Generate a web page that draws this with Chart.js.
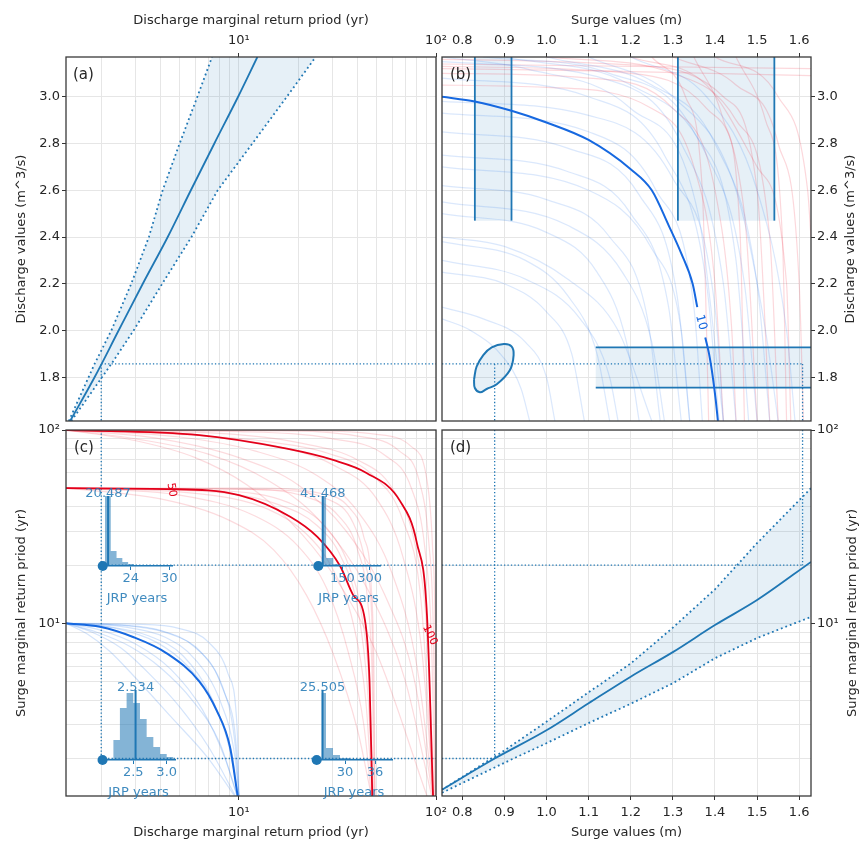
<!DOCTYPE html>
<html>
<head>
<meta charset="utf-8">
<script src="https://cdn.jsdelivr.net/npm/chart.js@4.4.1/dist/chart.umd.min.js"></script>
<style>
  html, body { margin: 0; padding: 0; background: #fff; }
  #wrap { position: relative; width: 860px; height: 843px; overflow: hidden; }
  #wrap canvas { position: absolute; left: 0; top: 0; }
</style>
</head>
<body>
<div id="wrap"></div>
<script>
// ---------- axes ----------
const rpTicks = [2, 3, 4, 5, 6, 7, 8, 9, 10, 20, 30, 40, 50, 60, 70, 80, 90, 100];
const rpLabels = { 10: '10¹', 100: '10²' };
const dischargeTicks = [1.8, 2.0, 2.2, 2.4, 2.6, 2.8, 3.0];
const surgeTicks = [0.8, 0.9, 1.0, 1.1, 1.2, 1.3, 1.4, 1.5, 1.6];
const dischargeRpRange = [1.325, 100];
const surgeRpRange = [1.28, 100];
const dischargeRange = [1.613, 3.17];
const surgeRange = [0.752, 1.628];

// ---------- design point used for the dotted guides ----------
const designDischargeRp = 2.0;
const designDischarge = 1.857;
const designSurgeLo = 0.877;
const designSurgeHi = 1.608;
const surgeRpLo = 2.0;
const surgeRpHi = 20;

// ---------- (a) discharge marginal: return period vs value ----------
const aMarginal   = [[1.39,1.613],[1.85,1.8],[2.45,2.0],[3.25,2.2],[4.35,2.4],[5.7,2.6],[7.5,2.8],[9.9,3.0],[12.4,3.17]];
const aMarginalLo = [[1.37,1.613],[1.85,1.857],[2.25,2.0],[2.84,2.2],[3.49,2.4],[4.1,2.6],[5.0,2.8],[6.15,3.0],[7.3,3.17]];
const aMarginalHi = [[1.41,1.613],[2.25,1.857],[2.92,2.0],[4.08,2.2],[5.74,2.4],[7.8,2.6],[11.7,2.8],[17.5,3.0],[24.5,3.17]];

// ---------- (b) surge / discharge space ----------
const bContour10A = [[0.752,3.0],[0.83,2.98],[0.917,2.94],[1.0,2.89],[1.1,2.815],[1.2,2.69],[1.25,2.6],[1.29,2.45],[1.32,2.33],[1.347,2.2],[1.358,2.1]];
const bContour10B = [[1.377,1.97],[1.386,1.9],[1.395,1.8],[1.402,1.7],[1.407,1.613]];
const bVertBands = [[0.83, 0.917], [1.312, 1.541]];
const bVertBandRange = [2.47, 3.17];
const bHorzBand = [1.756, 1.928];
const bHorzBandRange = [1.117, 1.628];
const bEllipse = [[0.828,1.79],[0.834,1.845],[0.85,1.895],[0.87,1.928],[0.899,1.942],[0.917,1.932],[0.922,1.895],[0.913,1.83],[0.882,1.77],[0.858,1.75],[0.842,1.736],[0.83,1.754],[0.828,1.79]];
const bFaintBlue = [
  [[0.752,2.25],[0.9,2.2],[1.0,2.08],[1.06,1.9],[1.09,1.613]],
  [[0.752,2.38],[0.95,2.3],[1.05,2.15],[1.12,1.9],[1.15,1.613]],
  [[0.752,2.5],[1.0,2.42],[1.12,2.25],[1.19,1.95],[1.22,1.613]],
  [[0.752,2.62],[1.0,2.56],[1.15,2.4],[1.24,2.05],[1.27,1.613]],
  [[0.752,2.75],[1.05,2.68],[1.2,2.5],[1.29,2.1],[1.32,1.613]],
  [[0.752,2.85],[1.05,2.78],[1.22,2.58],[1.31,2.15],[1.34,1.613]],
  [[0.752,2.93],[1.1,2.85],[1.26,2.6],[1.35,2.1],[1.37,1.613]],
  [[0.752,3.08],[1.1,3.0],[1.28,2.75],[1.38,2.2],[1.41,1.613]],
  [[0.752,3.15],[1.15,3.07],[1.32,2.8],[1.42,2.2],[1.45,1.613]],
  [[0.85,3.17],[1.15,3.1],[1.35,2.85],[1.45,2.3],[1.48,1.613]],
  [[1.0,3.17],[1.25,3.05],[1.4,2.8],[1.5,2.2],[1.53,1.613]],
  [[1.1,3.17],[1.3,3.0],[1.45,2.6],[1.52,2.0],[1.55,1.613]],
  [[0.752,2.1],[0.85,2.05],[0.95,1.95],[1.0,1.8],[1.02,1.613]],
  [[0.752,3.17],[0.95,3.12],[1.2,2.95],[1.36,2.5],[1.42,1.613]],
  [[0.752,2.3],[0.95,2.22],[1.08,2.05],[1.15,1.8],[1.17,1.613]],
  [[0.752,2.55],[1.05,2.45],[1.18,2.25],[1.25,1.95],[1.28,1.613]],
  [[0.752,2.7],[1.1,2.6],[1.25,2.35],[1.32,2.0],[1.34,1.613]],
  [[0.752,2.98],[1.1,2.92],[1.3,2.65],[1.4,2.1],[1.42,1.613]],
  [[0.9,3.17],[1.2,3.05],[1.38,2.75],[1.47,2.2],[1.5,1.613]],
  [[1.2,3.17],[1.38,3.0],[1.5,2.6],[1.57,2.0],[1.59,1.613]],
  [[0.752,2.05],[0.82,2.0],[0.9,1.88],[0.94,1.75],[0.96,1.613]],
  [[0.752,2.4],[0.9,2.36],[1.05,2.22],[1.17,2.0],[1.25,1.613]]
];
const bFaintRed = [
  [[0.752,3.1],[1.1,3.08],[1.3,2.95],[1.4,2.6],[1.44,2.0],[1.45,1.613]],
  [[0.752,3.13],[1.2,3.1],[1.38,2.95],[1.47,2.5],[1.5,1.613]],
  [[0.752,3.16],[1.25,3.13],[1.42,3.0],[1.5,2.6],[1.53,1.613]],
  [[1.0,3.17],[1.3,3.1],[1.45,2.9],[1.53,2.4],[1.55,1.613]],
  [[1.2,3.17],[1.38,3.05],[1.5,2.7],[1.57,2.2],[1.58,1.613]],
  [[1.25,3.17],[1.33,3.0],[1.37,2.6],[1.38,2.0],[1.385,1.613]],
  [[1.35,3.17],[1.42,2.9],[1.46,2.4],[1.47,1.613]],
  [[1.3,3.17],[1.45,3.05],[1.55,2.8],[1.6,2.2],[1.61,1.613]],
  [[1.45,3.17],[1.52,2.9],[1.56,2.4],[1.57,1.613]],
  [[0.752,3.05],[1.0,3.04],[1.25,2.95],[1.35,2.7],[1.4,2.2],[1.42,1.613]],
  [[1.4,3.17],[1.55,3.0],[1.62,2.6],[1.628,2.4]],
  [[0.752,3.14],[1.628,3.12]],
  [[0.752,3.12],[1.15,3.11],[1.628,3.09]]
];

// ---------- (c) joint return period contours ----------
const cBlue10 = [[1.325,10],[1.97,9.6],[2.9,8.5],[4.3,7.0],[6.3,5.0],[7.7,3.55],[9.0,2.3],[9.85,1.28]];
const cRed50  = [[1.325,50],[4.3,49.5],[10,46],[18.2,35.6],[25,28],[32.6,19.8],[38,14],[43.6,10.4],[46,5],[47.5,1.28]];
const cRed100 = [[1.325,100],[6.3,94],[17.5,80],[30,70],[44.4,60],[65.6,43],[80,26],[90,11],[96.6,1.28]];
const cBlueFaint = [
  [[1.325,10],[1.8,9],[2.5,7.5],[3.5,5.5],[5,3.7],[7,2.3],[9.6,1.28]],
  [[1.325,10],[2,9.2],[3,7.8],[4.5,5.8],[6.5,3.6],[8.5,2.0],[9.8,1.28]],
  [[1.325,10],[2.2,9.6],[3.5,8.6],[5.2,6.8],[7.2,4.2],[9,2.2],[9.9,1.28]],
  [[1.325,10],[2.5,9.8],[4,9.2],[6,7.5],[8,5],[9.5,2.5],[10,1.28]],
  [[1.325,10],[3,9.9],[5,9.4],[7,8],[8.8,5.5],[9.8,2.8],[10,1.28]],
  [[1.325,10],[1.7,8.8],[2.2,7.2],[3,5.2],[4.5,3.3],[7,2.0],[9.5,1.28]],
  [[1.325,10],[2.4,9.4],[3.8,8.0],[5.5,6.0],[7.5,3.8],[9.3,2.0],[9.9,1.28]],
  [[1.325,10],[2.8,9.7],[4.5,8.8],[6.5,7.0],[8.5,4.3],[9.7,2.3],[10,1.28]],
  [[1.325,10],[1.9,9.0],[2.8,7.6],[4.0,5.9],[5.8,4.0],[8,2.4],[9.8,1.28]],
  [[1.325,10],[2.6,9.6],[4.2,8.5],[6,6.5],[8,4.0],[9.5,2.1],[10,1.28]]
];
const cRed50Faint = [
  [[1.325,50],[5,46],[12,36],[20,25],[28,15],[36,7],[43,3],[47,1.28]],
  [[1.325,50],[6,47],[14,39],[22,29],[30,19],[38,10],[44,4],[47.5,1.28]],
  [[1.325,50],[8,48.5],[18,42],[28,31],[36,20],[42,11],[46,4.5],[48,1.28]],
  [[1.325,50],[10,49.5],[22,45],[32,36],[40,24],[45,13],[47.5,5],[48.5,1.28]],
  [[1.325,50],[4,44],[9,34],[15,24],[22,14],[30,7],[40,2.8],[47,1.28]],
  [[1.325,50],[12,50],[26,47],[36,40],[43,28],[47,15],[48.5,5],[49,1.28]],
  [[1.325,50],[7,48],[16,41],[25,32],[33,22],[40,12],[45,4.5],[48,1.28]],
  [[1.325,50],[14,49],[28,44],[38,33],[44,20],[47.5,9],[49,1.28]]
];
const cRed100Faint = [
  [[1.325,100],[5,92],[12,78],[25,58],[40,38],[60,18],[80,6],[97,1.28]],
  [[1.325,100],[4,90],[10,72],[20,52],[35,30],[55,14],[78,5],[96,1.28]],
  [[1.325,100],[8,96],[20,86],[40,70],[60,50],[78,26],[90,9],[98,1.28]],
  [[1.325,100],[10,98],[30,90],[55,74],[75,50],[88,24],[95,8],[99,1.28]],
  [[1.325,100],[6,94],[15,83],[30,66],[50,44],[68,22],[85,7],[97,1.28]],
  [[1.325,100],[3,90],[7,75],[14,55],[25,35],[45,15],[70,5],[95,1.28]],
  [[1.325,100],[15,99],[40,93],[65,78],[82,55],[92,26],[97,9],[99.5,1.28]],
  [[1.325,100],[5,95],[14,87],[28,76],[48,58],[68,34],[84,13],[97,1.28]],
  [[1.325,100],[3,88],[6,72],[11,52],[18,34],[30,18],[50,7],[90,1.28]],
  [[1.325,100],[20,99.5],[50,95],[75,82],[90,55],[96,25],[99,8],[100,1.28]]
];

// ---------- JRP histograms (insets in c) ----------
const jrpMedians = [20.487, 41.468, 2.534, 25.505];
const jrpMins    = [19.65, 17.2, 2.04, 24.34];
const jrpEdges   = [[20.0,20.9,21.8,22.7,23.6,24.5], [38,60,100,140], [2.2,2.3,2.4,2.5,2.6,2.7,2.8,2.9,3.0,3.1], [25.3,26.2,27.6,29.0,31.0]];
const jrpCounts  = [[70,15,8,4,2], [70,8,2], [20,52,67,57,41,23,13,6,3], [67,12,5,2]];
const jrpTicks   = [[24,30], [150,300], [2.5,3.0], [30,36]];
const jrpRanges  = [[19.54,30.42], [10.1,356.6], [2.032,3.124], [24.2,39.4]];

// ---------- (d) surge marginal ----------
const dMarginal   = [[0.752,1.38],[0.877,2.0],[1.0,2.8],[1.1,3.86],[1.2,5.3],[1.3,7.1],[1.4,9.8],[1.5,13.2],[1.628,20.8]];
const dMarginalHi = [[0.752,1.38],[0.9,2.2],[1.0,3.1],[1.1,4.4],[1.2,6.2],[1.3,9.5],[1.4,15],[1.5,26],[1.628,50]];
const dMarginalLo = [[0.752,1.33],[0.9,1.9],[1.0,2.4],[1.1,3.05],[1.2,3.84],[1.3,4.9],[1.4,6.6],[1.5,8.4],[1.628,10.8]];

// ================= drawing =================
const FONT = "'DejaVu Sans', sans-serif";
const BLUE = '#1f77b4';
const BRIGHT = '#1668e0';
const RED = '#e3001a';
const BAND = 'rgba(31,119,180,0.11)';
const TXT = '#262626';
const wrap = document.getElementById('wrap');

function makeCanvas() {
  const c = document.createElement('canvas');
  c.width = 860; c.height = 843;
  wrap.appendChild(c);
  return c;
}
const P = arr => arr.map(([x, y]) => ({ x, y }));

function curve(arr, color, width, order, extra) {
  return Object.assign({
    data: P(arr), showLine: true, borderColor: color, backgroundColor: color,
    borderWidth: width, pointRadius: 0, fill: false, order: order,
    cubicInterpolationMode: 'monotone'
  }, extra || {});
}
function dotted(arr, width, order) {
  return curve(arr, BLUE, width, order, { borderDash: [width, width * 1.65], cubicInterpolationMode: 'default', tension: 0 });
}
function straight(arr, color, width, order) {
  return curve(arr, color, width, order, { cubicInterpolationMode: 'default', tension: 0 });
}
function shape(arr, color, order) {
  return { data: P(arr), showLine: true, borderWidth: 0, borderColor: 'rgba(0,0,0,0)',
    backgroundColor: color, pointRadius: 0, fill: 'shape', order: order, tension: 0 };
}
function rect(x0, x1, y0, y1) { return [[x0, y0], [x1, y0], [x1, y1], [x0, y1], [x0, y0]]; }

function axis(o) {
  const horiz = o.pos === 'top' || o.pos === 'bottom';
  return {
    type: o.type, position: o.pos, min: o.min, max: o.max,
    afterBuildTicks: s => { s.ticks = o.ticks.map(v => ({ value: v })); },
    afterFit: s => { if (horiz) s.height = o.size; else s.width = o.size; },
    ticks: {
      autoSkip: false, maxRotation: 0, minRotation: 0, padding: horiz ? 5 : 2, color: TXT,
      font: { family: FONT, size: 13 },
      callback: v => o.labels ? (o.labels[v] || '') : Number(v).toFixed(1)
    },
    grid: {
      color: '#e6e6e6', lineWidth: 1, tickLength: 4,
      tickColor: c => (c.tick && c.tick.label) ? '#333' : 'rgba(0,0,0,0)'
    },
    border: { display: false },
    title: { display: !!o.title, text: o.title || '', color: TXT, font: { family: FONT, size: 13 },
      padding: o.pos === 'top' ? { top: 6, bottom: 0 } : { top: 3, bottom: 3 } }
  };
}

const framePlugin = {
  id: 'frame',
  afterDatasetsDraw(chart) {
    const a = chart.chartArea, ctx = chart.ctx;
    ctx.save();
    ctx.strokeStyle = '#3a3a3a'; ctx.lineWidth = 1.3;
    ctx.strokeRect(a.left, a.top, a.right - a.left, a.bottom - a.top);
    ctx.restore();
  }
};

// text drawn on top: in data units (data:true), relative to chart area (corner:true) or page px
function notes(items) {
  return {
    id: 'notes',
    afterDraw(chart) {
      const ctx = chart.ctx, ca = chart.chartArea;
      items.forEach(n => {
        let px = n.x, py = n.y;
        if (n.data) { px = chart.scales.x.getPixelForValue(n.x); py = chart.scales.y.getPixelForValue(n.y) + (n.dy || 0); }
        else if (n.corner) { px = ca.left + n.x; py = ca.top + n.y; }
        ctx.save();
        ctx.translate(px, py);
        ctx.rotate((n.rot || 0) * Math.PI / 180);
        ctx.font = (n.size || 13) + 'px ' + FONT;
        ctx.textAlign = n.align || 'center';
        ctx.textBaseline = n.baseline || 'middle';
        ctx.fillStyle = n.color || TXT;
        ctx.fillText(n.text, 0, 0);
        ctx.restore();
      });
    }
  };
}

function panel(datasets, scales, pad, texts) {
  return new Chart(makeCanvas(), {
    type: 'scatter',
    data: { datasets: datasets },
    options: {
      responsive: false, animation: false, events: [],
      layout: { padding: pad },
      plugins: { legend: { display: false }, tooltip: { enabled: false } },
      scales: scales
    },
    plugins: [framePlugin, notes(texts)]
  });
}

// ---- (a)
panel([
  curve(aMarginal, BLUE, 1.8, 1),
  dotted(aMarginalLo, 1.8, 2),
  dotted(aMarginalHi, 1.8, 2),
  shape(aMarginalLo.concat(aMarginalHi.slice().reverse()), BAND, 9),
  dotted([[designDischargeRp, designDischarge], [dischargeRpRange[1], designDischarge]], 1.3, 3),
  dotted([[designDischargeRp, designDischarge], [designDischargeRp, dischargeRange[0]]], 1.3, 3)
], {
  x: axis({ type: 'logarithmic', pos: 'top', min: dischargeRpRange[0], max: dischargeRpRange[1], ticks: rpTicks, labels: rpLabels, title: 'Discharge marginal return priod (yr)', size: 50 }),
  y: axis({ type: 'linear', pos: 'left', min: dischargeRange[0], max: dischargeRange[1], ticks: dischargeTicks, title: 'Discharge values (m^3/s)', size: 55 })
}, { left: 11, top: 7, right: 424, bottom: 422 },
[{ text: '(a)', corner: true, x: 7, y: 18, size: 15, align: 'left' }]);

// ---- (b)
const bSets = [
  curve(bContour10A, BRIGHT, 2, 1),
  curve(bContour10B, BRIGHT, 2, 1),
  curve(bEllipse, BLUE, 2, 2, { backgroundColor: BAND, fill: 'shape', cubicInterpolationMode: 'default', tension: 0.4 }),
  shape(rect(bHorzBandRange[0], bHorzBandRange[1], bHorzBand[0], bHorzBand[1]), BAND, 9),
  straight([[bHorzBandRange[0], bHorzBand[0]], [bHorzBandRange[1], bHorzBand[0]]], BLUE, 1.8, 2),
  straight([[bHorzBandRange[0], bHorzBand[1]], [bHorzBandRange[1], bHorzBand[1]]], BLUE, 1.8, 2),
  dotted([[surgeRange[0], designDischarge], [designSurgeHi, designDischarge]], 1.3, 3),
  dotted([[designSurgeLo, designDischarge], [designSurgeLo, dischargeRange[0]]], 1.3, 3),
  dotted([[designSurgeHi, designDischarge], [designSurgeHi, dischargeRange[0]]], 1.3, 3)
];
bVertBands.forEach(([s0, s1]) => {
  bSets.push(shape(rect(s0, s1, bVertBandRange[0], bVertBandRange[1]), BAND, 9));
  bSets.push(straight([[s0, bVertBandRange[0]], [s0, bVertBandRange[1]]], BLUE, 1.8, 2));
  bSets.push(straight([[s1, bVertBandRange[0]], [s1, bVertBandRange[1]]], BLUE, 1.8, 2));
});
bFaintBlue.forEach(c => bSets.push(curve(c, 'rgba(40,120,235,0.17)', 1.2, 7)));
bFaintRed.forEach(c => bSets.push(curve(c, 'rgba(240,40,60,0.18)', 1.2, 8)));
panel(bSets, {
  x: axis({ type: 'linear', pos: 'top', min: surgeRange[0], max: surgeRange[1], ticks: surgeTicks, title: 'Surge values (m)', size: 50 }),
  y: axis({ type: 'linear', pos: 'right', min: dischargeRange[0], max: dischargeRange[1], ticks: dischargeTicks, size: 49 })
}, { left: 442, top: 7, right: 0, bottom: 422 },
[{ text: '(b)', corner: true, x: 8, y: 18, size: 15, align: 'left' },
 { text: '10', data: true, x: 1.367, y: 2.035, rot: 75, color: BRIGHT, size: 12 },
 { text: 'Discharge values (m^3/s)', x: 851, y: 239, rot: -90 }]);

// ---- (c)
const cSets = [
  curve(cBlue10, BRIGHT, 2, 1),
  curve(cRed50, RED, 1.8, 1),
  curve(cRed100, RED, 1.8, 1),
  dotted([[designDischargeRp, surgeRpRange[1]], [designDischargeRp, surgeRpLo]], 1.3, 3),
  dotted([[designDischargeRp, surgeRpHi], [dischargeRpRange[1], surgeRpHi]], 1.3, 3),
  dotted([[designDischargeRp, surgeRpLo], [dischargeRpRange[1], surgeRpLo]], 1.3, 3)
];
cBlueFaint.forEach(c => cSets.push(curve(c, 'rgba(40,120,235,0.2)', 1.2, 7)));
cRed50Faint.forEach(c => cSets.push(curve(c, 'rgba(240,40,60,0.17)', 1.2, 8)));
cRed100Faint.forEach(c => cSets.push(curve(c, 'rgba(240,40,60,0.17)', 1.2, 8)));
panel(cSets, {
  x: axis({ type: 'logarithmic', pos: 'bottom', min: dischargeRpRange[0], max: dischargeRpRange[1], ticks: rpTicks, labels: rpLabels, title: 'Discharge marginal return priod (yr)', size: 47 }),
  y: axis({ type: 'logarithmic', pos: 'left', min: surgeRpRange[0], max: surgeRpRange[1], ticks: rpTicks, labels: rpLabels, title: 'Surge marginal return priod (yr)', size: 55 })
}, { left: 11, top: 430, right: 424, bottom: 0 },
[{ text: '(c)', corner: true, x: 8, y: 18, size: 15, align: 'left' },
 { text: '50', data: true, x: 4.55, y: 49, rot: 80, color: RED, size: 11 },
 { text: '100', data: true, x: 93, y: 8.7, rot: 65, color: RED, size: 11 }]);

// ---- (d)
panel([
  curve(dMarginal, BLUE, 1.8, 1),
  dotted(dMarginalHi, 1.8, 2),
  dotted(dMarginalLo, 1.8, 2),
  shape(dMarginalLo.concat(dMarginalHi.slice().reverse()), BAND, 9),
  dotted([[surgeRange[0], surgeRpHi], [designSurgeHi, surgeRpHi]], 1.3, 3),
  dotted([[surgeRange[0], surgeRpLo], [designSurgeLo, surgeRpLo]], 1.3, 3),
  dotted([[designSurgeLo, surgeRpRange[1]], [designSurgeLo, surgeRpLo]], 1.3, 3),
  dotted([[designSurgeHi, surgeRpRange[1]], [designSurgeHi, surgeRpHi]], 1.3, 3)
], {
  x: axis({ type: 'linear', pos: 'bottom', min: surgeRange[0], max: surgeRange[1], ticks: surgeTicks, title: 'Surge values (m)', size: 47 }),
  y: axis({ type: 'logarithmic', pos: 'right', min: surgeRpRange[0], max: surgeRpRange[1], ticks: rpTicks, labels: rpLabels, size: 49 })
}, { left: 442, top: 430, right: 0, bottom: 0 },
[{ text: '(d)', corner: true, x: 8, y: 18, size: 15, align: 'left' },
 { text: 'Surge marginal return priod (yr)', x: 853, y: 613, rot: -90 }]);

// ---- JRP insets (page px boxes: left, right, top, baseline)
const insetBoxes = [[102, 172, 496, 566], [317, 380, 496, 566], [102, 175, 690, 760], [316, 392, 690, 760]];
const INSET_TXT = 'rgba(31,119,180,0.85)';
jrpMedians.forEach((m, i) => {
  const [l, r, t, b] = insetBoxes[i];
  const edges = jrpEdges[i], counts = jrpCounts[i];
  const hist = counts.map((c, k) => [edges[k], c]).concat([[edges[edges.length - 1], 0]]);
  new Chart(makeCanvas(), {
    type: 'scatter',
    data: { datasets: [
      { data: [{ x: jrpMins[i], y: 0 }], pointRadius: 5, pointBackgroundColor: BLUE, pointBorderWidth: 0, clip: false, order: 0 },
      straight([[m, 0], [m, 70]], BLUE, 2, 1),
      { data: P(hist), showLine: true, stepped: 'before', borderWidth: 0, borderColor: 'rgba(0,0,0,0)',
        backgroundColor: 'rgba(31,119,180,0.55)', fill: 'origin', pointRadius: 0, order: 2 }
    ] },
    options: {
      responsive: false, animation: false, events: [],
      layout: { padding: { left: l, right: 860 - r, top: t, bottom: 843 - b - 40 } },
      plugins: { legend: { display: false }, tooltip: { enabled: false } },
      scales: {
        x: {
          type: 'linear', position: 'bottom', min: jrpRanges[i][0], max: jrpRanges[i][1],
          afterBuildTicks: s => { s.ticks = jrpTicks[i].map(v => ({ value: v })); },
          afterFit: s => { s.height = 40; },
          ticks: { autoSkip: false, maxRotation: 0, padding: 1, color: INSET_TXT, font: { family: FONT, size: 13 },
            callback: v => v > 10 ? String(v) : Number(v).toFixed(1) },
          grid: { display: true, drawOnChartArea: false, tickLength: 4, tickColor: BLUE },
          border: { display: true, color: BLUE, width: 1.6 },
          title: { display: true, text: 'JRP years', color: INSET_TXT, font: { family: FONT, size: 13 }, padding: { top: 0, bottom: 0 } }
        },
        y: { display: false, min: 0, max: 70 }
      }
    },
    plugins: [notes([{ text: m.toFixed(3), data: true, x: m, y: 70, dy: 1, baseline: 'alphabetic', color: INSET_TXT, size: 13 }])]
  });
});
</script>
</body>
</html>
